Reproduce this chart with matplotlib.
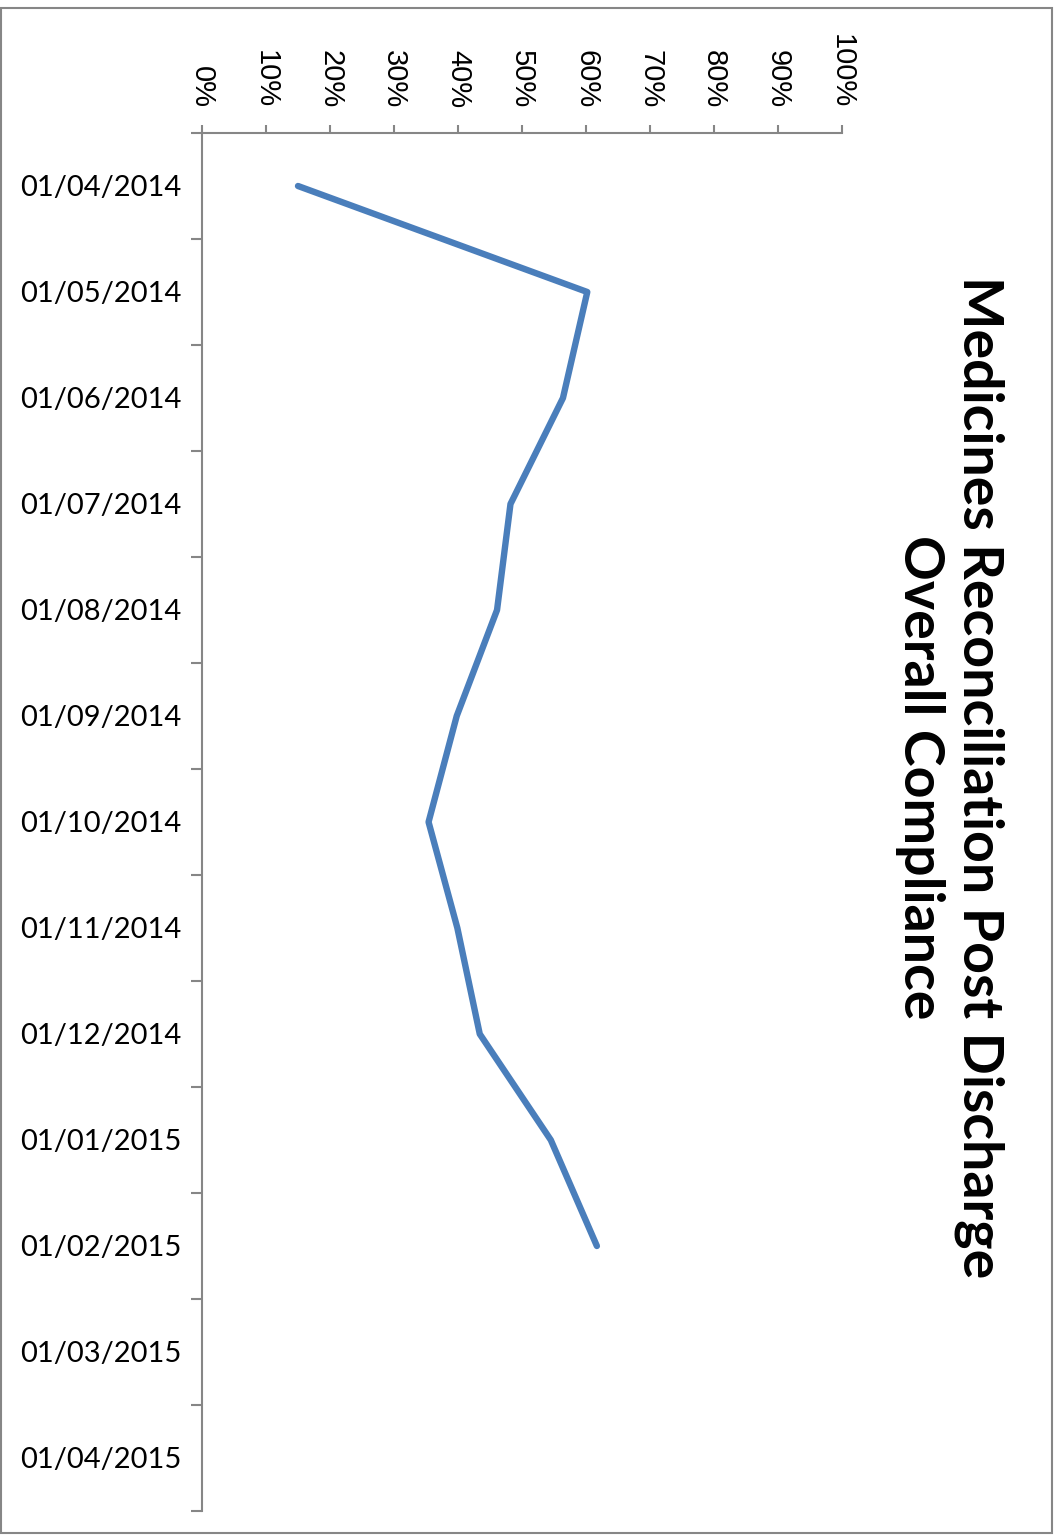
import matplotlib
matplotlib.use("Agg")
import matplotlib.pyplot as plt
from matplotlib.patches import Rectangle
import numpy as np

categories = ["01/04/2014", "01/05/2014", "01/06/2014", "01/07/2014", "01/08/2014",
              "01/09/2014", "01/10/2014", "01/11/2014", "01/12/2014", "01/01/2015",
              "01/02/2015", "01/03/2015", "01/04/2015"]
compliance = [0.15, 0.602, 0.564, 0.482, 0.461, 0.398, 0.354, 0.399, 0.434, 0.545, 0.617]
pct_ticks = [0.0, 0.1, 0.2, 0.3, 0.4, 0.5, 0.6, 0.7, 0.8, 0.9, 1.0]
pct_labels = ["0%", "10%", "20%", "30%", "40%", "50%", "60%", "70%", "80%", "90%", "100%"]
title = "Medicines Reconciliation Post Discharge\nOverall Compliance"

W, H = 1058, 1535
fig = plt.figure(figsize=(W / 100, H / 100), dpi=100)
fig.patch.set_facecolor("white")

axc = "#868686"
left, right, top, bottom = 202, 842, 133, 1511
ax = fig.add_axes([left / W, 1 - bottom / H, (right - left) / W, (bottom - top) / H])

pos = np.arange(len(compliance))
ax.plot(compliance, pos, color="#4A7EBB", lw=4.6, solid_joinstyle="round",
        solid_capstyle="round")

ax.set_xlim(0, 1)
ax.set_ylim(len(categories) - 0.5, -0.5)

ax.xaxis.tick_top()
ax.set_xticks(pct_ticks)
ax.set_xticklabels(pct_labels, rotation=270, fontsize=21, family="Liberation Sans",
                   va="bottom", ha="center")
ax.tick_params(axis="x", direction="out", length=6, width=1.5, color=axc, pad=12)

# boundaries between categories carry the tick marks
ax.set_yticks(list(np.arange(len(categories) + 1) - 0.5))
ax.set_yticklabels([])
ax.tick_params(axis="y", which="major", direction="out", length=8, width=1.5, color=axc)
# category labels centred between the tick marks
ax.set_yticks(np.arange(len(categories)), minor=True)
ax.set_yticklabels(categories, minor=True)
ax.tick_params(axis="y", which="minor", length=0, pad=15, labelsize=21,
               labelfontfamily="Lato")

for s in ["right", "bottom"]:
    ax.spines[s].set_visible(False)
for s in ["top", "left"]:
    ax.spines[s].set_color(axc)
    ax.spines[s].set_linewidth(1.5)
ax.patch.set_alpha(0)

fig.text(950 / W, 1 - 777 / H, title, rotation=270, ha="center", va="center",
         ma="center", fontsize=40, fontweight="bold", family="Lato", linespacing=1.22)

fig.patches.append(Rectangle((1 / W, 1 - 1533 / H), 1051 / W, 1525 / H,
                             transform=fig.transFigure, fill=False, edgecolor=axc,
                             lw=1.5))

fig.savefig("out.png", dpi=100)
